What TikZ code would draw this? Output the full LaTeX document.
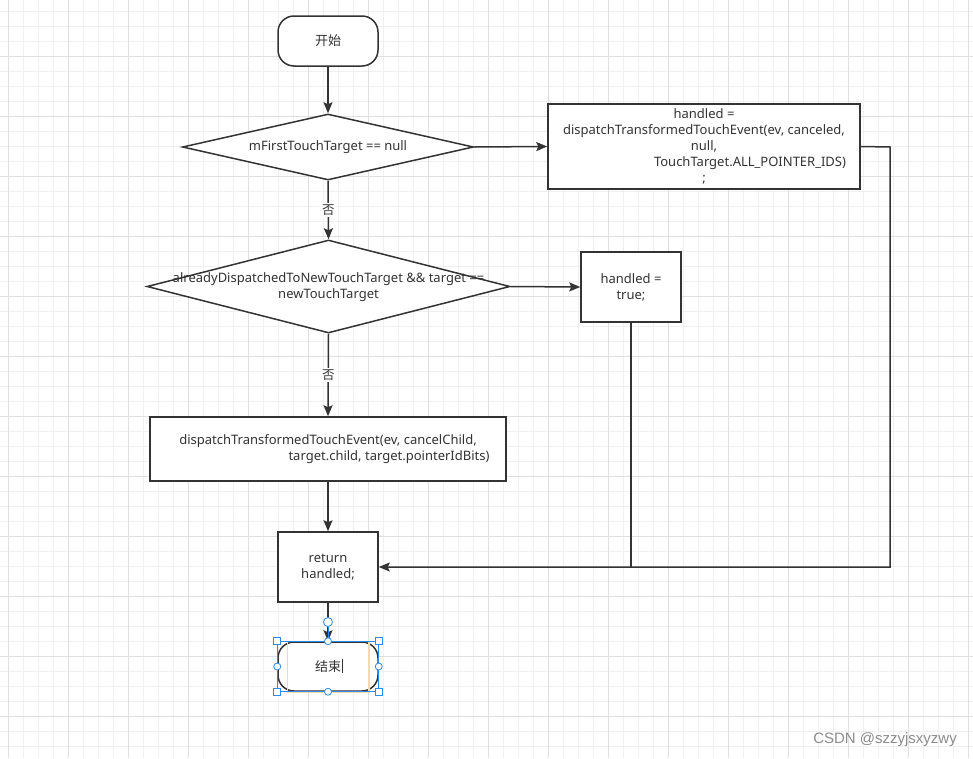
\documentclass[tikz,border=0pt]{standalone}
\usepackage{fontspec}
\setmainfont{Noto Sans}
\newfontfamily\cjk{Noto Sans CJK SC}
\newfontfamily\wmfont{Liberation Sans}
\usetikzlibrary{shapes.geometric,arrows.meta}
\definecolor{ink}{HTML}{333333}
\definecolor{txtc}{HTML}{333333}
\definecolor{gminor}{HTML}{F0F0F0}
\definecolor{gmajor}{HTML}{E0E0E0}
\definecolor{selblue}{HTML}{2E8BEA}
\definecolor{editor}{HTML}{F5D9A6}
\tikzset{
  base/.style={draw=ink, line width=1.5pt, fill=white, text=txtc, inner sep=0pt,
    font=\fontsize{13}{16}\selectfont, align=center},
  term/.style={base, rectangle, rounded corners=16pt, minimum width=100pt, minimum height=50pt},
  procbox/.style={base, rectangle},
  dia/.style={base, diamond, aspect=1},
  txt/.style={text=txtc, inner sep=0pt, font=\fontsize{13}{16}\selectfont, align=center},
  conn/.style={draw=ink, line width=1.5pt},
  arr/.style={conn, -{Stealth[length=11pt,width=9pt,inset=2pt]}},
  lbl/.style={fill=white, text=txtc, inner sep=1.5pt, font=\fontsize{12.5}{14}\selectfont\cjk},
  handlesq/.style={draw=selblue, fill=white, line width=0.8pt, minimum size=7pt, inner sep=0pt, rectangle},
  handlecirc/.style={draw=selblue, fill=white, line width=0.8pt, minimum size=7pt, inner sep=0pt, circle},
}
\begin{document}
\begin{tikzpicture}[x=1pt,y=-1pt]
\useasboundingbox (0,0) rectangle (973,758);
\fill[white] (0,0) rectangle (973,758);
% grid
\foreach \i in {0,...,64} {
  \draw[gminor, line width=0.8pt] ({8.3+15*\i},0) -- ({8.3+15*\i},758);
}
\foreach \j in {0,...,50} {
  \draw[gminor, line width=0.8pt] (0,{11.7+15*\j}) -- (973,{11.7+15*\j});
}
\foreach \i in {0,...,16} {
  \draw[gmajor, line width=0.8pt] ({8.3+60*\i},0) -- ({8.3+60*\i},758);
}
\foreach \j in {1,...,13} {
  \draw[gmajor, line width=0.8pt] (0,{-3.3+60*\j}) -- (973,{-3.3+60*\j});
}

% nodes
\node[term] (start) at (328,41) {\cjk 开始};
\node[dia, minimum width=291pt, minimum height=66pt] (d1) at (328,147) {};
\node[txt] (d1t) at (d1.center) {mFirstTouchTarget == null};
\node[procbox, minimum width=312pt, minimum height=85pt] (b1) at (704,146.5)
  {handled =\\dispatchTransformedTouchEvent(ev, canceled,\\null,\\\hspace*{92pt}TouchTarget.ALL\_POINTER\_IDS)\\;};
\node[dia, minimum width=363pt, minimum height=93pt] (d2) at (328.5,286.5) {};
\node[txt] (d2t) at ([yshift=-1pt]d2.center) {alreadyDispatchedToNewTouchTarget \&\& target ==\\newTouchTarget};
\node[procbox, minimum width=100pt, minimum height=70pt] (b2) at (631,287) {handled =\\true;};
\node[procbox, minimum width=356pt, minimum height=64pt] (b3) at (328,449)
  {dispatchTransformedTouchEvent(ev, cancelChild,\\\hspace*{122pt}target.child, target.pointerIdBits)};
\node[procbox, minimum width=100pt, minimum height=70pt] (ret) at (328,567) {return\\handled;};
\node[term, minimum height=49pt] (end) at (328,666.5) {\cjk 结束};
\coordinate (c1) at (890,147);

% connectors
\draw[arr] (start.south) -- (d1.north);
\draw[arr] (d1.east) -- (b1.west);
\draw[arr] (d1.south) -- node[lbl] (n1) {否} (d2.north);
\draw[arr] (d2.east) -- (b2.west);
\draw[arr] (d2.south) -- node[lbl] (n2) {否} (b3.north);
\draw[arr] (b3.south) -- (ret.north);
\draw[arr] (b1.east) -- (c1) |- (ret.east);
\draw[conn] (b2.south) -- (b2.south |- ret.east);
\draw[arr] (ret.south) -- (end.north);

% selection overlay on end node
\draw[editor, line width=1.5pt] ([xshift=10pt]end.north west) rectangle ([xshift=-10pt]end.south east);
\draw[ink, line width=0.8pt] ([xshift=14pt,yshift=-6pt]end.center) -- ([xshift=14pt,yshift=8pt]end.center);
\draw[selblue, line width=0.8pt] (end.north west) rectangle (end.south east);
\coordinate (rot) at (328,622);
\draw[selblue, line width=0.8pt] (rot) -- (end.north);
\node[handlecirc, minimum size=9pt] (hr) at (rot) {};
\node[handlesq] (h1) at (end.north west) {};
\node[handlesq] (h2) at (end.north east) {};
\node[handlesq] (h3) at (end.south west) {};
\node[handlesq] (h4) at (end.south east) {};
\node[handlecirc] (h5) at (end.north) {};
\node[handlecirc] (h6) at (end.south) {};
\node[handlecirc] (h7) at (end.west) {};
\node[handlecirc] (h8) at (end.east) {};

% watermark
\node[anchor=east, text=black!45, inner sep=0pt, font=\wmfont\fontsize{15}{16}\selectfont] (wm) at (957,740) {CSDN @szzyjsxyzwy};
\end{tikzpicture}
\end{document}
